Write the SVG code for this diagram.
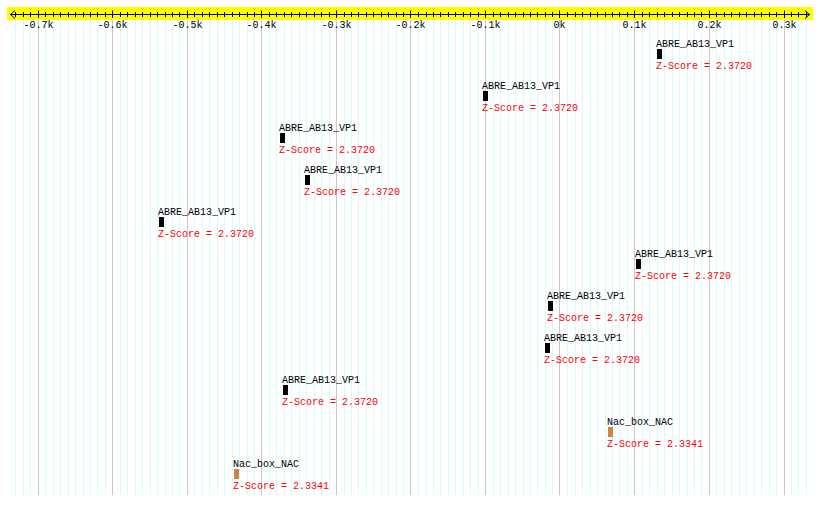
<svg xmlns="http://www.w3.org/2000/svg" width="820" height="505" viewBox="0 0 820 505">
<style>
text{font-family:"Liberation Mono","DejaVu Sans Mono",monospace;font-size:10px}
.lbl{fill:#000}
.z{fill:#ff0000}
.tk{text-anchor:middle;fill:#000}
.abre{fill:#000}
.nac{fill:#cd853f}
.minor{stroke:#d4fafa;stroke-width:1;fill:none}
.major{stroke:#c8c8c8;stroke-width:1;fill:none}
.ax{stroke:#000;stroke-width:1;fill:none}
</style>
<rect width="820" height="505" fill="#fff"/>
<g id="grid">
<path class="minor" d="M15.5 20V495M23.5 20V495M30.5 20V495M45.5 20V495M53.5 20V495M60.5 20V495M68.5 20V495M75.5 20V495M83.5 20V495M90.5 20V495M97.5 20V495M105.5 20V495M120.5 20V495M127.5 20V495M135.5 20V495M142.5 20V495M150.5 20V495M157.5 20V495M165.5 20V495M172.5 20V495M179.5 20V495M194.5 20V495M202.5 20V495M209.5 20V495M217.5 20V495M224.5 20V495M232.5 20V495M239.5 20V495M247.5 20V495M254.5 20V495M269.5 20V495M276.5 20V495M284.5 20V495M291.5 20V495M299.5 20V495M306.5 20V495M314.5 20V495M321.5 20V495M329.5 20V495M344.5 20V495M351.5 20V495M358.5 20V495M366.5 20V495M373.5 20V495M381.5 20V495M388.5 20V495M396.5 20V495M403.5 20V495M418.5 20V495M426.5 20V495M433.5 20V495M440.5 20V495M448.5 20V495M455.5 20V495M463.5 20V495M470.5 20V495M478.5 20V495M493.5 20V495M500.5 20V495M508.5 20V495M515.5 20V495M523.5 20V495M530.5 20V495M537.5 20V495M545.5 20V495M552.5 20V495M567.5 20V495M575.5 20V495M582.5 20V495M590.5 20V495M597.5 20V495M605.5 20V495M612.5 20V495M619.5 20V495M627.5 20V495M642.5 20V495M649.5 20V495M657.5 20V495M664.5 20V495M672.5 20V495M679.5 20V495M687.5 20V495M694.5 20V495M701.5 20V495M716.5 20V495M724.5 20V495M731.5 20V495M739.5 20V495M746.5 20V495M754.5 20V495M761.5 20V495M769.5 20V495M776.5 20V495M791.5 20V495M798.5 20V495M806.5 20V495"/>
<path class="major" d="M38.5 20V495M112.5 20V495M187.5 20V495M261.5 20V495M336.5 20V495M410.5 20V495M485.5 20V495M559.5 20V495M634.5 20V495M709.5 20V495M784.5 20V495"/>
</g>
<g id="axis">
<rect x="7" y="7" width="806" height="13" fill="#ffff00"/>
<path class="ax" d="M10 14.5H810"/>
<path class="ax" d="M15 10.5L10.5 14.5L15 18.5M805 10.5L809.5 14.5L805 18.5"/>
<path class="ax" d="M15.5 12V17M23.5 12V17M30.5 12V17M45.5 12V17M53.5 12V17M60.5 12V17M68.5 12V17M75.5 12V17M83.5 12V17M90.5 12V17M97.5 12V17M105.5 12V17M120.5 12V17M127.5 12V17M135.5 12V17M142.5 12V17M150.5 12V17M157.5 12V17M165.5 12V17M172.5 12V17M179.5 12V17M194.5 12V17M202.5 12V17M209.5 12V17M217.5 12V17M224.5 12V17M232.5 12V17M239.5 12V17M247.5 12V17M254.5 12V17M269.5 12V17M276.5 12V17M284.5 12V17M291.5 12V17M299.5 12V17M306.5 12V17M314.5 12V17M321.5 12V17M329.5 12V17M344.5 12V17M351.5 12V17M358.5 12V17M366.5 12V17M373.5 12V17M381.5 12V17M388.5 12V17M396.5 12V17M403.5 12V17M418.5 12V17M426.5 12V17M433.5 12V17M440.5 12V17M448.5 12V17M455.5 12V17M463.5 12V17M470.5 12V17M478.5 12V17M493.5 12V17M500.5 12V17M508.5 12V17M515.5 12V17M523.5 12V17M530.5 12V17M537.5 12V17M545.5 12V17M552.5 12V17M567.5 12V17M575.5 12V17M582.5 12V17M590.5 12V17M597.5 12V17M605.5 12V17M612.5 12V17M619.5 12V17M627.5 12V17M642.5 12V17M649.5 12V17M657.5 12V17M664.5 12V17M672.5 12V17M679.5 12V17M687.5 12V17M694.5 12V17M701.5 12V17M716.5 12V17M724.5 12V17M731.5 12V17M739.5 12V17M746.5 12V17M754.5 12V17M761.5 12V17M769.5 12V17M776.5 12V17M791.5 12V17M798.5 12V17M806.5 12V17"/>
<path class="ax" d="M38.5 10.5V18M112.5 10.5V18M187.5 10.5V18M261.5 10.5V18M336.5 10.5V18M410.5 10.5V18M485.5 10.5V18M559.5 10.5V18M634.5 10.5V18M709.5 10.5V18M784.5 10.5V18"/>
<text class="tk" x="38.5" y="28">-0.7k</text>
<text class="tk" x="112.5" y="28">-0.6k</text>
<text class="tk" x="187.5" y="28">-0.5k</text>
<text class="tk" x="261.5" y="28">-0.4k</text>
<text class="tk" x="336.5" y="28">-0.3k</text>
<text class="tk" x="410.5" y="28">-0.2k</text>
<text class="tk" x="485.5" y="28">-0.1k</text>
<text class="tk" x="559.5" y="28">0k</text>
<text class="tk" x="634.5" y="28">0.1k</text>
<text class="tk" x="709.5" y="28">0.2k</text>
<text class="tk" x="784.5" y="28">0.3k</text>
</g>
<g id="f1"><text class="lbl" x="656" y="47">ABRE_AB13_VP1</text><rect class="abre" x="657" y="49" width="5" height="10"/><text class="z" x="656" y="69">Z-Score = 2.3720</text></g>
<g id="f2"><text class="lbl" x="482" y="89">ABRE_AB13_VP1</text><rect class="abre" x="483" y="91" width="5" height="10"/><text class="z" x="482" y="111">Z-Score = 2.3720</text></g>
<g id="f3"><text class="lbl" x="279" y="131">ABRE_AB13_VP1</text><rect class="abre" x="280" y="133" width="5" height="10"/><text class="z" x="279" y="153">Z-Score = 2.3720</text></g>
<g id="f4"><text class="lbl" x="304" y="173">ABRE_AB13_VP1</text><rect class="abre" x="305" y="175" width="5" height="10"/><text class="z" x="304" y="195">Z-Score = 2.3720</text></g>
<g id="f5"><text class="lbl" x="158" y="215">ABRE_AB13_VP1</text><rect class="abre" x="159" y="217" width="5" height="10"/><text class="z" x="158" y="237">Z-Score = 2.3720</text></g>
<g id="f6"><text class="lbl" x="635" y="257">ABRE_AB13_VP1</text><rect class="abre" x="636" y="259" width="5" height="10"/><text class="z" x="635" y="279">Z-Score = 2.3720</text></g>
<g id="f7"><text class="lbl" x="547" y="299">ABRE_AB13_VP1</text><rect class="abre" x="548" y="301" width="5" height="10"/><text class="z" x="547" y="321">Z-Score = 2.3720</text></g>
<g id="f8"><text class="lbl" x="544" y="341">ABRE_AB13_VP1</text><rect class="abre" x="545" y="343" width="5" height="10"/><text class="z" x="544" y="363">Z-Score = 2.3720</text></g>
<g id="f9"><text class="lbl" x="282" y="383">ABRE_AB13_VP1</text><rect class="abre" x="283" y="385" width="5" height="10"/><text class="z" x="282" y="405">Z-Score = 2.3720</text></g>
<g id="f10"><text class="lbl" x="607" y="425">Nac_box_NAC</text><rect class="nac" x="608" y="427" width="5" height="10"/><text class="z" x="607" y="447">Z-Score = 2.3341</text></g>
<g id="f11"><text class="lbl" x="233" y="467">Nac_box_NAC</text><rect class="nac" x="234" y="469" width="5" height="10"/><text class="z" x="233" y="489">Z-Score = 2.3341</text></g>
<g id="connectors"/>
</svg>
